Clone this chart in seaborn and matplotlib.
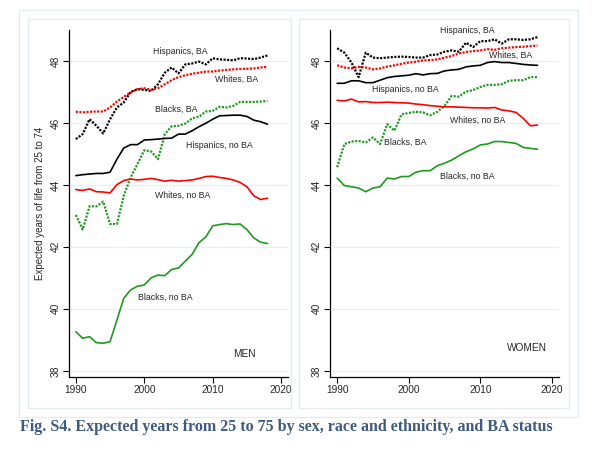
import numpy as np
import pandas as pd
import seaborn as sb
import matplotlib.pyplot as plt
from matplotlib.patches import Rectangle

years = list(range(1990, 2019))

# men
men_hisp_ba = [45.48, 45.64, 46.12, 45.91, 45.66, 46.12, 46.50, 46.66, 47.00, 47.09,
               47.07, 47.03, 47.25, 47.62, 47.79, 47.60, 47.89, 47.92, 47.98, 47.89,
               48.09, 48.05, 48.04, 48.02, 48.09, 48.08, 48.06, 48.11, 48.18]
men_white_ba = [46.36, 46.34, 46.36, 46.37, 46.37, 46.50, 46.69, 46.84, 46.98, 47.09,
                47.12, 47.07, 47.12, 47.25, 47.38, 47.48, 47.54, 47.59, 47.62, 47.66,
                47.66, 47.69, 47.71, 47.73, 47.74, 47.75, 47.76, 47.79, 47.81]
men_black_ba = [43.03, 42.56, 43.31, 43.31, 43.46, 42.74, 42.74, 43.65, 44.24, 44.67,
                45.12, 45.08, 44.83, 45.64, 45.89, 45.91, 45.98, 46.15, 46.20, 46.37,
                46.39, 46.52, 46.50, 46.55, 46.68, 46.68, 46.68, 46.69, 46.71]
men_hisp_nba = [44.30, 44.33, 44.35, 44.37, 44.37, 44.41, 44.83, 45.19, 45.30, 45.30,
                45.45, 45.46, 45.48, 45.50, 45.51, 45.64, 45.64, 45.75, 45.88, 45.99,
                46.12, 46.23, 46.24, 46.25, 46.25, 46.21, 46.09, 46.04, 45.96]
men_white_nba = [43.85, 43.82, 43.87, 43.78, 43.77, 43.74, 44.01, 44.14, 44.19, 44.16,
                 44.18, 44.21, 44.17, 44.12, 44.15, 44.12, 44.14, 44.16, 44.21, 44.27,
                 44.28, 44.24, 44.21, 44.16, 44.08, 43.94, 43.65, 43.53, 43.57]
men_black_nba = [39.26, 39.05, 39.10, 38.91, 38.89, 38.94, 39.64, 40.34, 40.61, 40.73,
                 40.77, 41.00, 41.09, 41.07, 41.27, 41.32, 41.54, 41.76, 42.14, 42.32,
                 42.68, 42.72, 42.75, 42.72, 42.74, 42.56, 42.29, 42.15, 42.11]

# women
wom_hisp_ba = [48.41, 48.27, 47.95, 47.48, 48.27, 48.11, 48.09, 48.11, 48.13, 48.14,
               48.13, 48.11, 48.11, 48.19, 48.21, 48.30, 48.34, 48.30, 48.59, 48.45,
               48.64, 48.64, 48.70, 48.56, 48.70, 48.70, 48.68, 48.70, 48.77]
wom_white_ba = [47.86, 47.79, 47.76, 47.81, 47.79, 47.73, 47.76, 47.82, 47.86, 47.91,
                47.95, 47.98, 48.02, 48.03, 48.05, 48.11, 48.16, 48.24, 48.29, 48.32,
                48.34, 48.38, 48.36, 48.41, 48.43, 48.45, 48.46, 48.48, 48.50]
wom_black_ba = [44.57, 45.32, 45.40, 45.42, 45.37, 45.53, 45.32, 45.96, 45.75, 46.28,
                46.32, 46.36, 46.34, 46.25, 46.36, 46.55, 46.87, 46.85, 47.01, 47.06,
                47.16, 47.23, 47.23, 47.25, 47.36, 47.38, 47.38, 47.48, 47.48]
wom_hisp_nba = [47.28, 47.28, 47.36, 47.36, 47.30, 47.30, 47.38, 47.46, 47.50, 47.52,
                47.54, 47.59, 47.55, 47.59, 47.60, 47.68, 47.71, 47.73, 47.81, 47.84,
                47.86, 47.95, 47.98, 47.95, 47.95, 47.92, 47.89, 47.87, 47.86]
wom_white_nba = [46.73, 46.71, 46.77, 46.68, 46.69, 46.66, 46.66, 46.67, 46.66, 46.65,
                 46.64, 46.61, 46.59, 46.56, 46.54, 46.52, 46.52, 46.51, 46.50, 46.49,
                 46.49, 46.48, 46.50, 46.42, 46.39, 46.34, 46.15, 45.91, 45.93]
wom_black_nba = [44.22, 43.98, 43.94, 43.90, 43.78, 43.90, 43.94, 44.22, 44.19, 44.27,
                 44.27, 44.41, 44.46, 44.46, 44.62, 44.70, 44.80, 44.94, 45.07, 45.16,
                 45.29, 45.32, 45.40, 45.40, 45.37, 45.34, 45.21, 45.18, 45.15]

series_names = ["Hispanics, BA", "Whites, BA", "Blacks, BA",
                "Hispanics, no BA", "Whites, no BA", "Blacks, no BA"]
men_vals = [men_hisp_ba, men_white_ba, men_black_ba, men_hisp_nba, men_white_nba, men_black_nba]
wom_vals = [wom_hisp_ba, wom_white_ba, wom_black_ba, wom_hisp_nba, wom_white_nba, wom_black_nba]

y_ticks = [38, 40, 42, 44, 46, 48]
x_ticks = [1990, 2000, 2010, 2020]

# label spots (year, value)
men_labels = [(2005.2, 48.30), (2013.5, 47.41), (2004.7, 46.45),
              (2010.9, 45.26), (2005.6, 43.65), (2003.0, 40.36)]
wom_labels = [(2008.2, 48.98), (2014.3, 48.19), (1999.5, 45.39),
              (1999.6, 47.09), (2009.6, 46.09), (2008.2, 44.28)]

colors = ["black", "red", "#1e9a1e", "black", "red", "#1e9a1e"]
dotted = [True, True, True, False, False, False]

sb.set_style("white")
plt.rcParams['font.family'] = ['Liberation Sans', 'DejaVu Sans']

fig = plt.figure(figsize=(6.04, 4.49), dpi=100)
W, H = 604, 449

def px_rect(x0, y0, x1, y1):
    return (x0 / W, 1 - y1 / H, (x1 - x0) / W, (y1 - y0) / H)

frame_col = "#e2ebee"
for (x0, y0, x1, y1) in [(19, 10, 578, 417), (28, 19, 291, 408), (299, 19, 569, 408)]:
    l, b, w, h = px_rect(x0, y0, x1, y1)
    fig.patches.append(Rectangle((l, b), w, h, transform=fig.transFigure,
                                 fill=False, edgecolor=frame_col, lw=0.9))

ax_m = fig.add_axes(px_rect(69, 30, 288, 377))
ax_w = fig.add_axes(px_rect(330, 30, 559, 377))

for ax, vals, labels, tag, tag_pos in [(ax_m, men_vals, men_labels, "MEN", (2014.6, 38.53)),
                                       (ax_w, wom_vals, wom_labels, "WOMEN", (2016.5, 38.74))]:
    for name, v, c, d in zip(series_names, vals, colors, dotted):
        df = pd.DataFrame({"year": years, "value": v})
        if d:
            sb.lineplot(data=df, x="year", y="value", ax=ax, color=c, lw=1.6,
                        linestyle=(0, (0.95, 0.65)))
        else:
            sb.lineplot(data=df, x="year", y="value", ax=ax, color=c, lw=1.2)
    for name, (lx, ly) in zip(series_names, labels):
        ax.text(lx, ly, name, fontsize=6.3, ha="center", va="center", clip_on=False)
    ax.text(tag_pos[0], tag_pos[1], tag, fontsize=7.3, ha="center", va="center")

    ax.set_xlim(1989, 2021)
    ax.set_ylim(37.8, 49)
    ax.set_xticks(x_ticks)
    ax.set_yticks(y_ticks)
    ax.set_xlabel("")
    ax.set_ylabel("")
    ax.yaxis.grid(True, color="#e6eff1", lw=0.9)
    ax.set_axisbelow(True)
    for s in ["top", "right"]:
        ax.spines[s].set_visible(False)
    for s in ["left", "bottom"]:
        ax.spines[s].set_color("black")
        ax.spines[s].set_linewidth(0.9)
    ax.tick_params(axis="both", which="both", direction="out", length=4, width=0.8,
                   color="black", labelsize=7.3, pad=2, left=True, bottom=True)
    for t in ax.get_yticklabels():
        t.set_rotation(90)
        t.set_va("center")

ax_m.set_ylabel("Expected years of life from 25 to 74", fontsize=7, labelpad=4)

fig.text(20 / W, 1 - 427 / H,
         "Fig. S4. Expected years from 25 to 75 by sex, race and ethnicity, and BA status",
         fontsize=11.5, fontweight="bold", color="#3e5a7e", family="Liberation Serif",
         ha="left", va="center")

fig.savefig("out.png", dpi=100)
